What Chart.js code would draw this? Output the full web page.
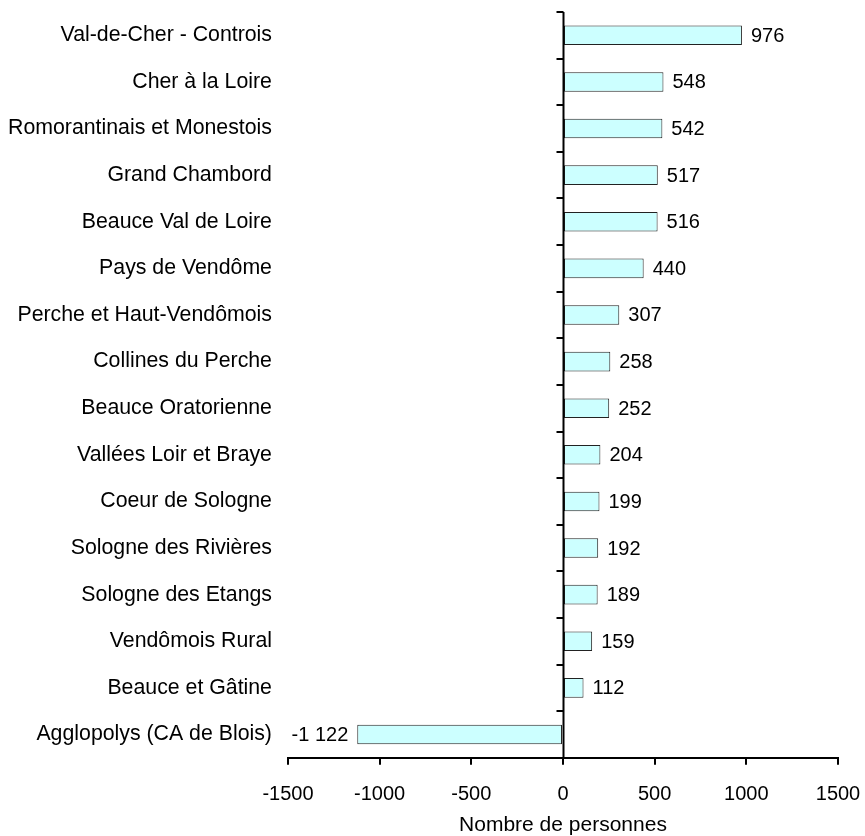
<!DOCTYPE html>
<html>
<head>
<meta charset="utf-8">
<script src="https://cdn.jsdelivr.net/npm/chart.js@4/dist/chart.umd.min.js"></script>
<style>
html,body{margin:0;padding:0;background:#fff;}
#wrap{width:865px;height:836px;position:relative;}
</style>
</head>
<body>
<div id="wrap"><canvas id="c"></canvas></div>
<script>
const categories = [
  "Val-de-Cher - Controis",
  "Cher à la Loire",
  "Romorantinais et Monestois",
  "Grand Chambord",
  "Beauce Val de Loire",
  "Pays de Vendôme",
  "Perche et Haut-Vendômois",
  "Collines du Perche",
  "Beauce Oratorienne",
  "Vallées Loir et Braye",
  "Coeur de Sologne",
  "Sologne des Rivières",
  "Sologne des Etangs",
  "Vendômois Rural",
  "Beauce et Gâtine",
  "Agglopolys (CA de Blois)"
];
const values = [976, 548, 542, 517, 516, 440, 307, 258, 252, 204, 199, 192, 189, 159, 112, -1122];
const xTicks = [-1500, -1000, -500, 0, 500, 1000, 1500];
const xTitle = "Nombre de personnes";

const FONT = "Arial, 'Liberation Sans', sans-serif";

function fmt(v){
  const s = Math.abs(v).toString().replace(/\B(?=(\d{3})+(?!\d))/g, " ");
  return (v < 0 ? "-" : "") + s;
}

const zeroAxisPlugin = {
  id: 'zeroAxis',
  afterDatasetsDraw(chart){
    const {ctx, scales:{x, y}, chartArea} = chart;
    const x0 = Math.round(x.getPixelForValue(0)) + 0.5;
    ctx.save();
    ctx.strokeStyle = '#000';
    ctx.lineWidth = 2;
    ctx.beginPath();
    ctx.moveTo(x0, chartArea.top);
    ctx.lineTo(x0, chartArea.bottom);
    ctx.stroke();
    const n = categories.length;
    const step = y.getPixelForValue(1) - y.getPixelForValue(0);
    for (let i = 0; i < n; i++){
      const yb = y.getPixelForValue(i) - step / 2;
      ctx.beginPath();
      ctx.moveTo(x0 - 7, Math.round(yb));
      ctx.lineTo(x0, Math.round(yb));
      ctx.stroke();
    }
    ctx.fillStyle = '#000';
    ctx.font = "20px " + FONT;
    ctx.textBaseline = 'middle';
    const meta = chart.getDatasetMeta(0);
    meta.data.forEach((bar, i) => {
      const v = values[i];
      if (v >= 0){
        ctx.textAlign = 'left';
        ctx.fillText(fmt(v), bar.x + 9, bar.y + 1);
      } else {
        ctx.textAlign = 'right';
        ctx.fillText(fmt(v), bar.x - 9, bar.y + 1);
      }
    });
    ctx.restore();
  }
};

new Chart(document.getElementById('c'), {
  type: 'bar',
  data: {
    labels: categories,
    datasets: [{
      data: values,
      backgroundColor: '#CCFFFF',
      borderColor: '#222',
      borderWidth: 1,
      borderSkipped: false,
      categoryPercentage: 1,
      barPercentage: 0.42
    }]
  },
  options: {
    indexAxis: 'y',
    responsive: true,
    maintainAspectRatio: false,
    animation: false,
    layout: { padding: { top: 12, right: 27, left: 0, bottom: 0 } },
    plugins: { legend: { display: false }, tooltip: { enabled: false } },
    scales: {
      x: {
        min: -1500, max: 1500,
        afterBuildTicks(scale){ scale.ticks = xTicks.map(v => ({value: v})); },
        afterFit(scale){ scale.paddingLeft = 0; scale.paddingRight = 0; scale.height -= 18; },
        grid: { drawOnChartArea: false, drawTicks: true, tickLength: 7, color: '#000', lineWidth: 2 },
        border: { display: true, color: '#000', width: 2 },
        ticks: { color: '#000', font: { size: 20, family: FONT }, padding: 18, maxRotation: 0,
                 callback: (v) => String(v) },
        title: { display: true, text: xTitle, color: '#000', font: { size: 21, family: FONT }, padding: { top: 6, bottom: -2 } }
      },
      y: {
        afterFit(scale){ scale.paddingTop = 0; scale.paddingBottom = 0; scale.width -= 8; },
        grid: { display: false, drawTicks: false },
        border: { display: false },
        ticks: { color: '#000', font: { size: 21.3, family: FONT }, padding: 16, autoSkip: false }
      }
    }
  },
  plugins: [zeroAxisPlugin]
});
</script>
</body>
</html>
